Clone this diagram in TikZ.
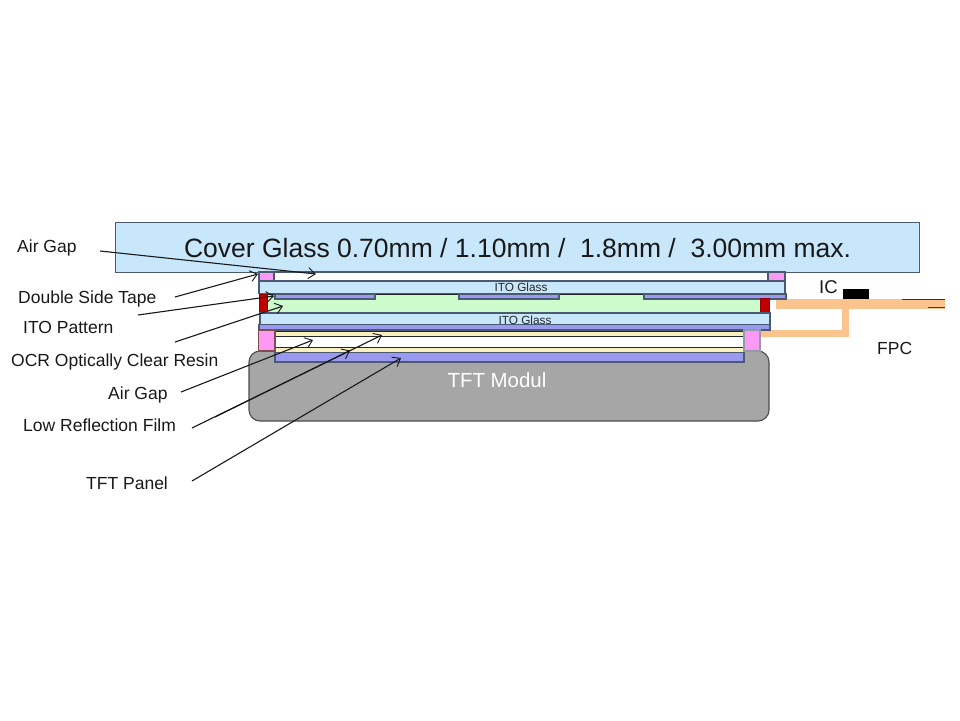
\documentclass[tikz,border=0pt]{standalone}
\usepackage{fontspec}
\setmainfont{Liberation Sans}
\definecolor{glass}{HTML}{C9E7FB}
\definecolor{edge}{HTML}{4A5A70}
\definecolor{tape}{HTML}{FB99F5}
\definecolor{patt}{HTML}{9999F0}
\definecolor{ocr}{HTML}{CCFBCC}
\definecolor{film}{HTML}{FBF0C0}
\definecolor{resin}{HTML}{C00000}
\definecolor{fpc}{HTML}{FBC48E}
\definecolor{modul}{HTML}{A6A6A6}
\tikzset{x=1pt,y=-1pt,
 layer/.style={draw=edge,line width=1.1pt},
 lbl/.style={inner sep=0pt,font=\fontsize{17.5}{20}\selectfont,text=black!90},
 small/.style={inner sep=0pt,font=\fontsize{11.8}{13}\selectfont,text=black!85},
 lead/.style={draw=black!90,line width=1.1pt,-{Straight Barb[length=7pt,width=11pt,line width=.9pt]}}}
\usetikzlibrary{arrows.meta}
\begin{document}
\begin{tikzpicture}
\useasboundingbox (0,0) rectangle (960,720);
\fill[white] (0,0) rectangle (960,720);
% TFT module
\draw[layer,fill=modul,rounded corners=11pt,draw=black!70] (249,351) rectangle (769,421);
\node[inner sep=0pt,text=white,font=\fontsize{20.4}{22}\selectfont] (tftm) at (497,380) {TFT Modul};
% FPC
\fill[fpc] (776,299) rectangle (945,308.5);
\fill[fpc] (842,308) rectangle (848.5,337);
\fill[fpc] (760,330) rectangle (848.5,337);
\fill[black] (843,289) rectangle (869,298.500);
\draw[black!80,line width=.9pt] (902,299) -- (945,299);
\draw[red!80!black,line width=.9pt] (928,307.5) -- (945,307.5);
% cover glass
\node[layer,fill=glass,minimum width=804pt,minimum height=50pt,inner sep=0pt,anchor=north west,font=\fontsize{26.5}{30}\selectfont,text=black!90] (cover) at (115,222) {Cover Glass 0.70mm / 1.10mm /\ \ 1.8mm /\ \ 3.00mm max.};
% upper air gap and tape
\draw[layer,fill=white] (274,272) rectangle (768,281);
\draw[layer,fill=tape] (259,272) rectangle (274,281);
\draw[layer,fill=tape] (768,272) rectangle (785,281);
% OCR
\draw[black!85,line width=1pt,fill=ocr] (267,294) rectangle (760,312.5);
% top ITO
\draw[layer,fill=glass] (259,281) rectangle (785,293.5);
\node[small] (ito1) at (521,287) {ITO Glass};
\draw[layer,fill=patt] (275,294) rectangle (375,299);
\draw[layer,fill=patt] (459,294) rectangle (559,299);
\draw[layer,fill=patt] (644,294) rectangle (786,299);
\draw[draw=red!60!black,fill=resin,line width=.5pt] (259,294) rectangle (267,312);
\draw[draw=red!60!black,fill=resin,line width=.5pt] (760,298) rectangle (769,312);
% bottom ITO
\draw[layer,fill=glass] (260,313) rectangle (770,324.5);
\node[small] (ito2) at (525,320) {ITO Glass};
\draw[layer,fill=patt] (259,324.5) rectangle (770,330);
% lower stack
\draw[layer,fill=white] (275,331) rectangle (744,352);
\draw[black!85,line width=1pt,fill=film] (275,331) rectangle (744,336);
\draw[black!85,line width=1pt,fill=film] (275,347) rectangle (744,352);
\draw[layer,fill=patt] (275,352.5) rectangle (744,362);
\draw[layer,draw=red!30!black!70,fill=tape] (258.500,330) rectangle (275,351);
\draw[layer,draw=edge!60,fill=tape] (744,330) rectangle (760,351);
% labels
\node[lbl,anchor=west] (l1) at (17,247.500) {Air Gap};
\node[lbl,anchor=west] (l2) at (18,298.500) {Double Side Tape};
\node[lbl,anchor=west] (l3) at (23,327) {ITO Pattern};
\node[lbl,anchor=west] (l4) at (11,361.500) {OCR Optically Clear Resin};
\node[lbl,anchor=west] (l5) at (108,394.500) {Air Gap};
\node[lbl,anchor=west] (l6) at (23,425) {Low Reflection Film};
\node[lbl,anchor=west] (l7) at (86,483) {TFT Panel};
\node[inner sep=0pt,anchor=west,font=\fontsize{18.5}{20}\selectfont,text=black!90] (ic) at (819,287) {IC};
\node[inner sep=0pt,anchor=west,font=\fontsize{17.5}{20}\selectfont,text=black!90] (fpcl) at (877,348) {FPC};
% leader lines
\coordinate (a1s) at (100,251); \coordinate (a1e) at (316,274);
\coordinate (a2s) at (175,297); \coordinate (a2e) at (258,274);
\coordinate (a3s) at (138,315); \coordinate (a3e) at (274,296);
\coordinate (a4s) at (175,342); \coordinate (a4e) at (283,306);
\coordinate (a5s) at (181,392); \coordinate (a5e) at (313,340);
\coordinate (a6s) at (192,428); \coordinate (a6e) at (382,335);
\coordinate (a6bs) at (215,417); \coordinate (a6be) at (350,350.500);
\coordinate (a7s) at (192,481); \coordinate (a7e) at (401,358);
\draw[lead] (a1s) -- (a1e);
\draw[lead] (a2s) -- (a2e);
\draw[lead] (a3s) -- (a3e);
\draw[lead] (a4s) -- (a4e);
\draw[lead] (a5s) -- (a5e);
\draw[lead] (a6s) -- (a6e);
\draw[lead] (a6bs) -- (a6be);
\draw[lead] (a7s) -- (a7e);
\end{tikzpicture}
\end{document}
